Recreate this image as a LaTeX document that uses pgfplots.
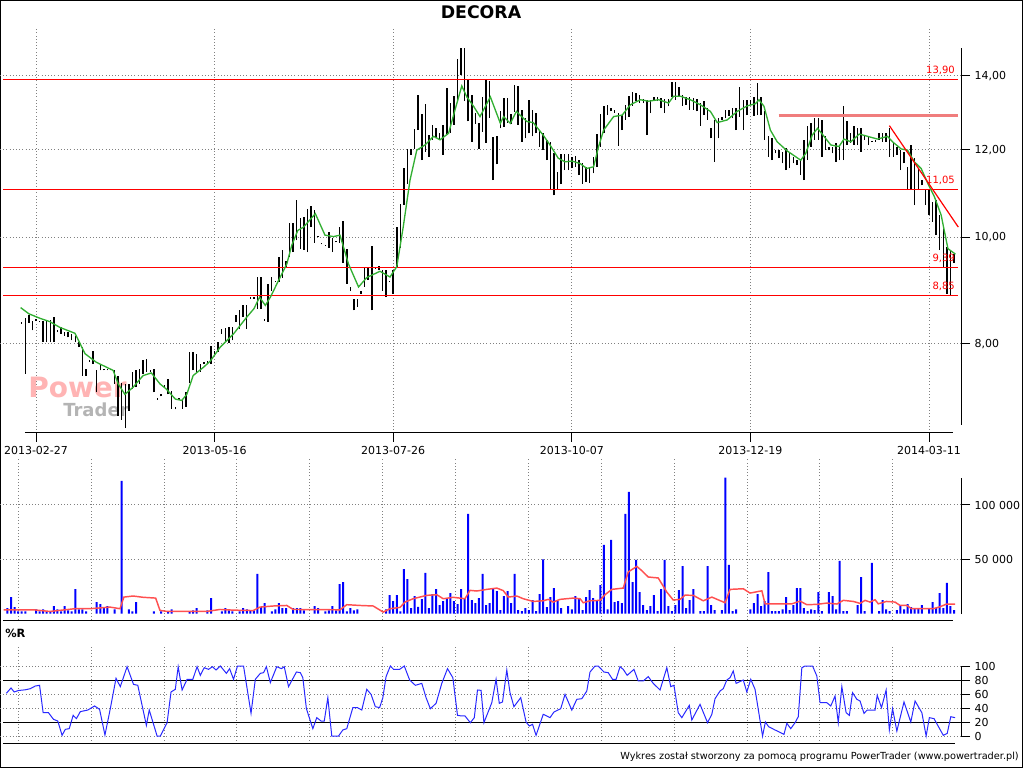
\documentclass[border=0pt]{standalone}
\usepackage{fontspec}
\setmainfont{DejaVu Sans}
\usepackage{pgfplots}
\usepackage{pgfplotstable}
\pgfplotsset{compat=1.18}
\definecolor{grn}{RGB}{50,175,50}
\definecolor{volblue}{RGB}{0,0,255}
\definecolor{rblue}{RGB}{40,40,255}
\definecolor{gridgray}{RGB}{128,128,128}
\definecolor{wmpink}{RGB}{255,180,180}
\definecolor{wmgray}{RGB}{180,180,180}
\definecolor{pinkline}{RGB}{240,125,125}
\definecolor{vma}{RGB}{255,80,80}
\definecolor{lvl}{RGB}{255,0,0}

\pgfplotstableread{
d lo hi
-4 8.34 8.37
-3 7.52 8.44
-2 8.36 8.49
-1 8.23 8.40
0 8.39 8.42
1 8.37 8.40
2 8.03 8.40
3 8.03 8.40
4 8.03 8.41
5 8.03 8.47
6 8.20 8.23
7 8.17 8.28
8 8.14 8.21
9 8.11 8.20
10 8.06 8.17
11 8.03 8.14
12 7.95 8.03
13 7.49 7.95
14 7.49 7.60
15 7.71 7.74
16 7.67 7.88
17 7.23 7.57
18 7.57 7.65
19 7.57 7.60
20 7.57 7.60
21 7.57 7.60
22 7.36 7.57
23 6.89 7.49
24 6.83 7.38
25 6.71 7.36
26 6.96 7.36
27 7.28 7.55
28 7.31 7.57
29 7.36 7.60
30 7.52 7.73
31 7.55 7.75
32 7.54 7.57
33 7.23 7.60
34 7.12 7.15
35 7.17 7.20
36 7.32 7.35
37 7.20 7.44
38 6.99 7.25
39 6.98 7.01
40 7.12 7.15
41 6.99 7.13
42 7.02 7.23
43 7.38 7.86
44 7.57 7.86
45 7.55 7.84
46 7.55 7.67
47 7.67 7.70
48 7.69 7.72
49 7.67 7.97
50 7.84 7.89
51 7.86 8.04
52 8.17 8.26
53 8.03 8.27
54 8.02 8.28
55 8.06 8.28
56 8.38 8.49
57 8.26 8.59
58 8.46 8.67
59 8.26 8.67
60 8.79 8.82
61 8.79 8.82
62 8.61 9.20
63 8.61 9.20
64 8.40 8.43
65 8.38 9.06
66 8.94 9.20
67 9.10 9.13
68 9.11 9.60
69 9.19 9.74
70 9.40 9.52
71 9.59 10.30
72 9.69 10.30
73 9.93 10.80
74 9.76 10.40
75 9.74 10.42
76 9.69 10.61
77 10.21 10.66
78 9.88 10.59
79 10.00 10.03
80 9.85 9.88
81 9.81 9.84
82 9.78 10.10
83 9.69 9.97
84 9.89 9.92
85 9.88 10.21
86 9.48 10.33
87 9.07 9.76
88 8.93 9.01
89 8.58 8.79
90 8.64 8.79
91 8.88 8.94
92 9.01 9.40
93 9.14 9.40
94 8.58 9.81
95 9.36 9.39
96 9.33 9.42
97 8.94 9.34
98 8.82 9.33
99 9.10 9.13
100 8.88 9.34
101 9.40 10.21
102 9.78 10.71
103 10.69 11.54
104 11.18 12.02
105 11.87 12.02
106 12.02 12.52
107 12.50 13.46
108 11.74 12.93
109 11.95 13.21
110 11.82 12.37
111 12.25 12.64
112 12.29 12.55
113 12.25 12.43
114 11.87 12.64
115 12.37 13.65
116 12.43 13.24
117 12.64 13.42
118 13.32 14.49
119 14.03 14.83
120 13.28 14.83
121 12.73 13.88
122 12.20 13.45
123 12.67 12.97
124 12.02 12.70
125 12.46 13.40
126 12.17 13.88
127 12.83 13.86
128 11.26 12.32
129 11.64 12.34
130 12.55 13.01
131 12.59 13.37
132 12.70 13.37
133 12.67 12.93
134 12.98 13.74
135 12.64 13.71
136 12.20 13.04
137 12.29 12.81
138 12.42 13.32
139 12.34 13.04
140 12.42 12.95
141 12.08 12.50
142 11.99 12.42
143 11.74 12.25
144 11.06 12.20
145 10.91 11.91
146 11.06 11.46
147 11.17 11.89
148 11.50 11.89
149 11.50 11.89
150 11.54 11.83
151 11.58 11.85
152 11.38 11.74
153 11.18 11.66
154 11.22 11.58
155 11.19 11.54
156 11.42 11.83
157 11.58 12.40
158 12.08 12.93
159 12.42 13.15
160 12.90 13.18
161 13.00 13.09
162 12.97 13.04
163 12.10 12.95
164 12.50 12.90
165 12.77 13.18
166 12.86 13.42
167 13.15 13.55
168 13.28 13.50
169 13.23 13.45
170 13.23 13.34
171 12.37 13.32
172 12.95 13.30
173 13.32 13.39
174 13.28 13.40
175 13.09 13.37
176 12.95 13.35
177 13.14 13.35
178 13.40 13.83
179 13.32 13.83
180 13.40 13.68
181 13.15 13.45
182 13.18 13.40
183 13.04 13.40
184 13.04 13.37
185 13.00 13.34
186 12.61 13.23
187 12.90 13.28
188 12.77 13.09
189 12.29 12.55
190 11.70 12.77
191 12.29 12.81
192 12.77 12.86
193 12.81 13.04
194 12.88 13.04
195 12.81 13.09
196 12.50 13.09
197 12.86 13.68
198 12.50 13.32
199 12.90 13.32
200 13.18 13.32
201 12.88 13.40
202 12.90 13.79
203 12.90 13.40
204 12.25 13.00
205 11.83 12.34
206 11.74 12.29
207 11.91 11.99
208 11.79 11.99
209 11.66 11.95
210 11.50 12.04
211 11.54 11.95
212 11.66 11.83
213 11.62 11.74
214 11.38 11.74
215 11.26 12.25
216 11.74 12.60
217 12.08 12.70
218 12.25 12.81
219 12.25 12.81
220 11.82 12.77
221 11.99 12.34
222 11.99 12.08
223 11.91 12.08
224 11.70 12.17
225 11.74 12.08
226 11.74 13.14
227 12.12 12.73
228 12.17 12.42
229 12.12 12.60
230 12.12 12.55
231 11.95 12.55
232 12.25 12.37
233 12.12 12.34
234 12.19 12.22
235 12.20 12.25
236 12.25 12.42
237 12.20 12.42
238 12.20 12.42
239 11.83 12.55
240 11.83 12.17
241 11.87 12.08
242 11.50 11.99
243 11.66 11.95
244 11.06 11.58
245 11.03 12.12
246 10.69 11.79
247 11.03 11.54
248 11.14 11.26
249 10.69 11.06
250 10.47 11.06
251 10.32 10.76
252 10.04 10.80
253 9.73 10.47
254 9.40 10.25
255 8.88 9.80
256 8.85 9.73
257 9.48 9.65
}\pricetab

\pgfplotstableread{
d v
-4.3 8.63
-2 8.52
1.1 8.44
3.9 8.38
6.7 8.28
10.9 8.18
12.3 8.01
13.7 7.84
16.9 7.70
21.6 7.57
23.0 7.36
24.9 7.20
27.2 7.31
30.0 7.49
32.3 7.53
34.7 7.36
36.5 7.28
39.0 7.13
40.8 7.11
42.2 7.20
44.0 7.49
46.9 7.62
48.8 7.72
51.6 7.95
55.3 8.17
59.0 8.46
61.0 8.61
62.6 8.82
64.2 8.67
65.6 8.82
68.4 9.20
70.2 9.45
71.6 9.83
73.3 10.14
74.9 10.21
78.2 10.50
80.9 10.04
83.3 10.01
85.1 10.04
87.5 9.45
90.3 9.01
92.6 9.19
96.3 9.31
99.1 9.20
101.0 9.40
102.8 10.21
104.7 11.26
106.6 11.99
108.9 12.12
111.3 12.34
113.1 12.25
115.5 12.42
117.3 13.04
119.2 13.71
120.6 13.40
122.5 13.14
124.3 12.86
127.2 13.40
130.0 12.68
130.9 12.86
132.8 12.68
134.5 13.00
135.5 12.90
137.4 12.73
139.2 12.70
142.0 12.37
143.9 12.12
146.2 11.79
148.1 11.70
150.0 11.72
152.3 11.66
154.2 11.54
156.1 11.58
157.5 12.08
158.9 12.50
161.7 12.86
164.1 12.90
166.4 13.18
169.2 13.32
171.5 13.28
174.3 13.32
177.1 13.23
178.5 13.42
180.4 13.42
183.2 13.32
186.0 13.18
188.8 13.00
190.7 12.70
193.5 12.77
196.3 13.00
199.1 13.15
201.4 13.21
202.4 13.32
203.8 13.14
205.6 12.50
207.5 12.20
210.3 11.97
214.1 11.74
215.5 11.91
217.3 12.37
218.8 12.55
220.6 12.34
222.5 12.12
224.8 12.08
226.2 12.27
228.1 12.20
230.5 12.40
232.8 12.34
235.6 12.27
238.4 12.34
239.8 12.20
242.2 12.02
244.0 11.99
245.9 11.70
247.8 11.54
249.7 11.18
251.5 10.88
253.4 10.47
255.3 9.76
257.4 9.65
}\matab

\pgfplotstableread{
d v
-8 5000
-7 15200
-6 6000
-5 2000
-4 2000
-3 2000
0 4000
1 2000
2 4000
3 2000
4 2000
5 7000
6 4000
7 2000
8 7000
9 3000
10 2000
11 22600
12 3800
13 4000
14 2000
17 10600
18 8800
19 5000
20 7000
22 4000
24 122300
26 4000
27 2000
28 10600
33 2000
35 2000
37 2000
38 4000
43 2000
44 3000
45 5000
48 3000
49 14300
52 2000
53 5000
54 3000
55 2000
57 2000
58 5000
59 4000
60 3000
61 3000
62 36500
63 6300
64 9700
66 2000
67 4000
68 9700
69 5000
70 5000
72 5000
73 5000
74 5000
75 3000
78 7000
79 5000
81 2000
82 3000
83 7000
84 3000
85 27200
86 29000
87 2000
88 5000
89 3000
90 4000
98 4000
99 17000
100 11500
101 17000
102 2000
103 41000
104 31800
105 5000
106 16200
107 6300
108 13400
109 37400
110 5000
111 18000
112 22600
113 7800
114 11500
115 14300
116 18900
117 11500
118 8800
119 22600
120 14300
121 91800
122 12500
123 9700
124 14300
125 36500
126 7800
127 9700
128 22900
129 20800
130 3200
131 16200
132 20800
133 9700
134 36500
135 3200
136 2300
137 5000
138 3200
139 12500
140 2300
141 18000
142 50000
143 6000
144 15200
145 23500
146 11500
147 5000
149 7000
150 4000
151 16200
152 14300
153 3200
154 15200
155 21700
156 14300
157 11500
158 26300
159 63200
160 4000
161 67800
162 10600
163 11500
164 9700
165 91800
166 112100
167 29000
168 49400
169 19800
170 7800
171 3200
172 7000
173 17000
174 2300
175 22600
176 49400
177 7000
178 2300
179 7800
180 21700
181 43800
182 5000
183 12500
184 22600
186 2300
187 2300
188 43800
189 7800
190 3200
192 3200
193 125100
194 44800
195 2300
196 4000
200 4000
201 9700
202 18000
203 7000
204 11500
205 38300
206 2300
207 2300
208 2300
209 4000
210 15200
211 3200
212 7800
213 23500
214 23500
215 5000
216 2300
217 4000
218 3200
219 19800
220 2300
222 19800
223 16200
224 4000
225 48500
226 2300
227 2300
230 7800
231 33700
232 2300
234 46600
236 2300
237 12500
238 4000
239 2300
241 3200
242 7000
243 4000
244 8800
245 6000
246 5000
247 5000
248 7800
250 5000
251 10600
252 5000
253 18900
254 5000
255 28200
256 7000
257 3200
}\voltab

\pgfplotstableread{
d v
-9.1 3500
-0.7 3500
3.9 2000
10.9 4500
15.1 4500
17.0 5000
20.7 6000
23.5 4500
24.6 15200
27.2 16200
30.0 15000
33.5 14300
34.7 3000
36.6 2000
47.8 2000
51.5 3800
55.2 3200
60.8 2800
62.7 6000
66.4 7000
70.2 7500
72.0 3800
85.1 3500
87.0 8200
90.7 7500
94.4 7000
97.2 1400
99.1 4500
101.9 5700
103.3 10600
105.6 13700
109.4 16800
112.2 17400
114.0 13700
116.8 15000
120.1 13700
121.5 21400
123.4 20800
126.2 22300
129.0 23500
130.8 21200
132.2 15200
134.6 16200
136.4 13700
139.2 11200
142.0 11800
143.4 13100
144.8 10600
146.7 13100
150.4 14300
152.3 13700
153.2 10000
155.1 11800
157.9 12200
159.3 17400
161.2 22300
164.4 23500
165.8 38300
168.2 43500
169.6 39500
171.4 33700
174.2 32800
176.6 19800
178.4 12500
180.3 13100
181.7 17000
184.0 16800
186.8 11800
189.2 15200
192.9 10000
194.3 22300
198.0 22900
199.9 18900
203.2 21000
204.1 9000
211.6 9000
213.9 11500
215.8 8200
218.6 8500
221.4 9700
224.2 8800
226.0 12200
228.8 11200
230.7 9400
232.1 12200
233.5 10600
234.9 12800
235.8 9000
238.1 11200
240.5 10600
241.9 7500
243.8 7500
245.1 4500
251.2 4500
253.1 6300
254.9 8800
257.3 8800
}\vmatab

\pgfplotstableread{
d v
-8.3 61
-7 68.6
-6.1 62.9
-4.9 65
-3 66
-1.6 67.6
-0.2 71.4
1 72.4
2 33.3
3.5 33.3
4.9 23.8
6.1 21.4
7.3 1
8.2 9.5
9.3 10.5
10.4 29.5
11.3 24.8
12.4 34.8
14.5 37.1
16.4 42.9
17.8 38.1
19.3 1.4
20.8 39
22.4 82.4
23.6 70.5
25.5 99
27.3 73.8
28.5 72.4
30.9 15.2
31.7 37.1
33.9 0
34.8 0
36.7 19
37.8 62.9
39 66.7
39.8 99
40.9 65.7
42.3 81
43.9 81
45.1 99
46 86.7
47.1 97.6
48.3 95.2
49.4 99
50.4 94.3
51.6 100
53.3 89.5
54.2 96.2
55.3 81
56.4 100
58.1 100
60.2 32.4
61.4 81
62.8 89.5
63.7 90.5
64.5 99
65.6 76.2
67.4 99
68.7 96.2
69.5 99
70.7 70.5
72.9 91.4
74 90.5
74.7 83.3
75.7 39
77.5 10.5
78.6 26.2
79.8 21.4
80.7 21.4
81.7 54.8
82.8 0
84.7 0
85.9 8.6
87 10.5
88.7 40.5
90 40.5
91.2 37.1
92.6 66.7
93.8 59.5
95 41.9
96.2 40.5
97.1 54.8
98 84.8
99.2 100
100.1 95.2
101.8 95.2
103.1 100
104.6 80
106.2 72.4
108 75.2
109.2 54.8
110.4 39
112 46.7
113.6 75.2
115.2 96.2
116.7 83.3
118 29.5
119.2 28.6
120.1 28.6
121.6 19
122.7 26.2
123.6 65.7
124.6 65.2
125.4 19
127.6 47.6
128.8 81
129.7 46.7
130.6 48.6
131.8 94.3
132.7 61.9
133.8 41.9
135.7 54.8
137.2 20
138.1 14.3
139 16.7
140 1
142 31
143.9 26.2
145 34.3
146.9 39
148.1 59.5
150 37.1
151.4 52.4
152.8 53.3
154.2 64.3
155.1 91.4
156.5 100
157.4 100
159 91.4
160.2 90.5
161.4 81
162.4 81
163.5 99
164.4 95.2
165.5 86.7
167.4 95.2
168.6 78.6
170 78.6
171.4 84.8
172.8 75.2
174.7 65.7
176.6 97.6
177.7 70.5
178.6 72.4
179.8 33.3
180.8 26.2
182.9 43.8
183.6 22.9
185.9 45.2
188 19
189.2 31
190.1 53.3
191.5 64.3
192.4 67.6
193.4 80
194.3 83.3
195.2 92.9
196 75.2
198 80
199 62.9
200.1 81
201.3 66.7
203.4 0
204.2 20
205.1 13.3
206.9 8.6
208.1 5.7
209.4 2.4
210.2 18.1
211.3 10.5
212.5 19
213.4 27.6
214.4 97.6
215.3 100
217.4 100
218.6 85.7
219.5 47.6
221.4 47.6
222.5 42.9
223.7 57.1
224.6 19
225.6 70.5
226.8 33.3
227.7 29.5
228.6 61.9
229.8 52.4
230.7 50
231.8 32.4
232.7 37.1
234.9 37.1
235.5 58.1
236.7 40.5
238 65.7
238.9 8.6
239.8 39
241 7.1
243 48.6
244.9 20
246.1 50
248 33.3
249.2 0
250.1 26.2
251.4 24.8
254 1
255.1 3.8
256.1 27.6
257.3 26.2
}\wrtab

\pgfplotstableread{
x lv
-9.24 13.90
258.1 13.90
nan nan
-9.24 11.05
258.1 11.05
nan nan
-9.24 9.39
258.1 9.39
nan nan
-9.24 8.85
258.1 8.85
}\levels

\pgfplotsset{
  panel/.style={
    scale only axis, width=720.75pt, xmin=-10.08, xmax=258.96,
    axis x line*=bottom, axis y line*=right, axis line style={draw=none},
    tick align=outside, major tick length=6.75pt,
    every tick/.style={black, line width=0.75pt},
    grid=major, grid style={dotted, gridgray, line width=0.75pt},
    tick label style={font=\fontsize{8.25}{10}\selectfont},
    scaled x ticks=false, scaled y ticks=false,
    clip=false,
  },
}
\tikzset{redlab/.style={anchor=south east, inner sep=0pt, yshift=3.5pt, text=lvl, font=\fontsize{7.5}{8}\selectfont}}

\begin{document}
\begin{tikzpicture}
\path[use as bounding box] (0,0) rectangle (768pt,576pt);
\draw[black, line width=0.75pt] (0.375pt,0.375pt) rectangle (766.5pt,575.625pt);
\node[font=\fontsize{13}{15}\selectfont\bfseries] at (360.75pt,567pt) {DECORA};

% ---------- price panel ----------
\begin{axis}[panel, at={(0pt,251.25pt)}, anchor=south west, height=303.75pt,
  ymode=log, ymin=6.643, ymax=15.475,
  ytick={8,10,12,14}, yticklabels={{8,00},{10,00},{12,00},{14,00}},
  xtick={0,50,100,150,200,250},
  xticklabels={2013-02-27,2013-05-16,2013-07-26,2013-10-07,2013-12-19,2014-03-11},
  unbounded coords=jump]
\node[anchor=base west, inner sep=0pt, font=\fontsize{21}{21}\selectfont\bfseries, text=wmpink] at (axis cs:-2.24,7.16) {Power};
\node[anchor=base west, inner sep=0pt, font=\fontsize{13.5}{14}\selectfont\bfseries, text=wmgray] at (axis cs:7.56,6.88) {Trader};
\addplot[draw=none, mark=none, forget plot,
  error bars/.cd, y dir=plus, y explicit, error mark=none,
  error bar style={draw=black, line width=1.1pt}]
  table[x=d, y=lo, y error expr=\thisrow{hi}-\thisrow{lo}] {\pricetab};
\addplot[color=lvl, line width=0.9pt, mark=none] table[x=x, y=lv] {\levels};
\addplot[color=pinkline, line width=1.6pt, mark=none] coordinates {(207.9,12.89) (258.1,12.89)};
\addplot[color=grn, line width=1.0pt, mark=none] table[x=d, y=v] {\matab};
\addplot[color=lvl, line width=0.9pt, mark=none] coordinates {(238.9,12.62) (258.2,10.21)};
\node[redlab] at (axis cs:257.3,13.90) {13,90};
\node[redlab] at (axis cs:257.3,11.05) {11,05};
\node[redlab] at (axis cs:257.3,9.39) {9,39};
\node[redlab] at (axis cs:257.3,8.85) {8,85};
\draw[black, line width=0.75pt] (rel axis cs:0.026,0) -- (rel axis cs:0.9917,0);
\draw[black, line width=0.75pt] (rel axis cs:1,0.0198) -- (rel axis cs:1,0.9506);
\end{axis}

% ---------- volume panel ----------
\begin{axis}[panel, at={(0pt,111pt)}, anchor=south west, height=121.5pt,
  ymin=-5893, ymax=143276,
  ytick={50000,100000}, yticklabels={{50 000},{100 000}},
  xtick={-4.95,15.45,35.85,56.25,76.65,97.05,117.45,137.85,158.25,178.65,199.05,219.45,239.85},
  xticklabels={}, x tick style={draw=none}]
\addplot[ybar, bar width=1.5pt, bar shift=0pt, fill=volblue, draw=none] table[x=d, y=v] {\voltab};
\addplot[color=vma, line width=1.1pt, mark=none] table[x=d, y=v] {\vmatab};
\draw[black, line width=0.75pt] (rel axis cs:0.0031,0) -- (rel axis cs:0.9917,0);
\draw[black, line width=0.75pt] (rel axis cs:1,0.037) -- (rel axis cs:1,0.877);
\end{axis}

% ---------- %R panel ----------
\begin{axis}[panel, at={(0pt,18.525pt)}, anchor=south west, height=72.975pt,
  ymin=-10.43, ymax=128.57,
  ytick={0,20,40,60,80,100}, yticklabels={0,20,40,60,80,100},
  xtick={-4.95,15.45,35.85,56.25,76.65,97.05,117.45,137.85,158.25,178.65,199.05,219.45,239.85},
  xticklabels={}, x tick style={draw=none}]
\addplot[black, line width=0.75pt] coordinates {(-9.24,80) (258.96,80)};
\addplot[black, line width=0.75pt] coordinates {(-9.24,20) (258.96,20)};
\addplot[color=rblue, line width=0.75pt, mark=none] table[x=d, y=v] {\wrtab};
\draw[black, line width=0.75pt] (rel axis cs:0.0031,0) -- (rel axis cs:0.9938,0);
\draw[black, line width=0.75pt] (axis cs:258.96,0) -- (axis cs:258.96,100);
\end{axis}

\node[anchor=west, inner sep=0pt, font=\fontsize{8.5}{9}\selectfont\bfseries] at (3.75pt,101.25pt) {\%R};
\node[anchor=east, inner sep=0pt, font=\fontsize{7.3}{8}\selectfont] at (764.25pt,8.25pt) {Wykres został stworzony za pomocą programu PowerTrader (www.powertrader.pl)};
\end{tikzpicture}
\end{document}
